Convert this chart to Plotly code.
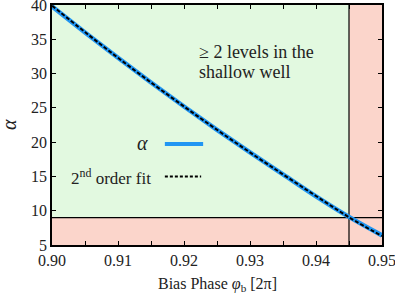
import plotly.graph_objects as go

# Data
bias_phase = [0.900, 0.905, 0.910, 0.915, 0.920, 0.925, 0.930, 0.935, 0.940, 0.945, 0.950]
alpha_vals = [39.8, 36.0, 32.3, 28.7, 25.2, 21.8, 18.5, 15.3, 12.1, 9.1, 6.4]
fit_vals   = [39.9, 36.05, 32.3, 28.7, 25.2, 21.8, 18.5, 15.3, 12.15, 9.05, 6.3]
x_range = [0.90, 0.95]
y_range = [5, 40]
x_cut = 0.945
alpha_cut = 9
x_ticks = [0.90, 0.91, 0.92, 0.93, 0.94, 0.95]
x_ticklabels = ["0.90", "0.91", "0.92", "0.93", "0.94", "0.95"]
y_ticks = [5, 10, 15, 20, 25, 30, 35, 40]

FONT = "Liberation Serif"
TXT = "#222"
GREEN = "#e2f9e0"
RED = "#fbd5cb"
BLUE = "#2196f3"

fig = go.Figure()

fig.add_trace(go.Scatter(x=bias_phase, y=alpha_vals, mode="lines",
                         line=dict(color=BLUE, width=4.5, shape="spline"),
                         showlegend=False))
fig.add_trace(go.Scatter(x=bias_phase, y=fit_vals, mode="lines",
                         line=dict(color="black", width=2, dash="4px,2px", shape="spline"),
                         showlegend=False))

shapes = [
    dict(type="rect", xref="x", yref="y", x0=x_range[0], x1=x_cut, y0=alpha_cut, y1=y_range[1],
         fillcolor=GREEN, line=dict(width=0), layer="below"),
    dict(type="rect", xref="x", yref="y", x0=x_cut, x1=x_range[1], y0=y_range[0], y1=y_range[1],
         fillcolor=RED, line=dict(width=0), layer="below"),
    dict(type="rect", xref="x", yref="y", x0=x_range[0], x1=x_cut, y0=y_range[0], y1=alpha_cut,
         fillcolor=RED, line=dict(width=0), layer="below"),
    dict(type="line", xref="x", yref="y", x0=x_cut, x1=x_cut, y0=y_range[0], y1=y_range[1],
         line=dict(color="black", width=1.2), layer="below"),
    dict(type="line", xref="x", yref="y", x0=x_range[0], x1=x_range[1], y0=alpha_cut, y1=alpha_cut,
         line=dict(color="black", width=1.2), layer="below"),
    # legend samples
    dict(type="line", xref="paper", yref="paper", x0=0.342, x1=0.458, y0=0.421, y1=0.421,
         line=dict(color=BLUE, width=4)),
    dict(type="line", xref="paper", yref="paper", x0=0.342, x1=0.452, y0=0.285, y1=0.285,
         line=dict(color="black", width=2, dash="3px,2px")),
]

annotations = [
    dict(text="<i>α</i>", xref="paper", yref="paper", x=0.297, y=0.425, xanchor="right",
         yanchor="middle", showarrow=False, font=dict(family=FONT, size=20, color=TXT)),
    dict(text="2<sup>nd</sup> order fit", xref="paper", yref="paper", x=0.306, y=0.283,
         xanchor="right", yanchor="middle", showarrow=False, font=dict(family=FONT, size=17, color=TXT)),
    dict(text="≥ 2 levels in the", xref="paper", yref="paper", x=0.44, y=0.806,
         xanchor="left", yanchor="middle", showarrow=False, font=dict(family=FONT, size=18, color=TXT)),
    dict(text="shallow well", xref="paper", yref="paper", x=0.44, y=0.722,
         xanchor="left", yanchor="middle", showarrow=False, font=dict(family=FONT, size=18, color=TXT)),
    dict(text="<i>α</i>", xref="paper", yref="paper", x=-0.13, y=0.5, textangle=-90,
         xanchor="center", yanchor="middle", showarrow=False, font=dict(family=FONT, size=20, color=TXT)),
    dict(text="Bias Phase <i>φ</i><sub>b</sub> [2π]", xref="paper", yref="paper", x=0.5, y=-0.165,
         xanchor="center", yanchor="middle", showarrow=False, font=dict(family=FONT, size=16, color=TXT)),
]

fig.update_layout(
    width=395, height=296,
    margin=dict(l=52, r=13, t=5, b=51),
    plot_bgcolor="white", paper_bgcolor="white",
    font=dict(family=FONT, size=16, color=TXT),
    shapes=shapes, annotations=annotations,
    showlegend=False,
)
fig.update_xaxes(range=x_range, tickvals=x_ticks, ticktext=x_ticklabels, automargin=False,
                 ticklabeloverflow="allow",
                 ticks="inside", ticklen=4, tickwidth=1.2, tickcolor="black",
                 minor=dict(dtick=0.005, ticks="inside", ticklen=4, tickwidth=1.2, tickcolor="black", showgrid=False),
                 showgrid=False, zeroline=False, showline=True, linecolor="black", linewidth=1.5,
                 mirror="ticks", tickfont=dict(family=FONT, size=16, color=TXT))
fig.update_yaxes(range=y_range, tickvals=y_ticks, automargin=False,
                 ticklabeloverflow="allow",
                 ticks="inside", ticklen=4, tickwidth=1.2, tickcolor="black",
                 showgrid=False, zeroline=False, showline=True, linecolor="black", linewidth=1.5,
                 mirror="ticks", tickfont=dict(family=FONT, size=16, color=TXT))

fig.write_html("out.html", config={"displayModeBar": False},
               post_script="document.body.style.margin='0';")
